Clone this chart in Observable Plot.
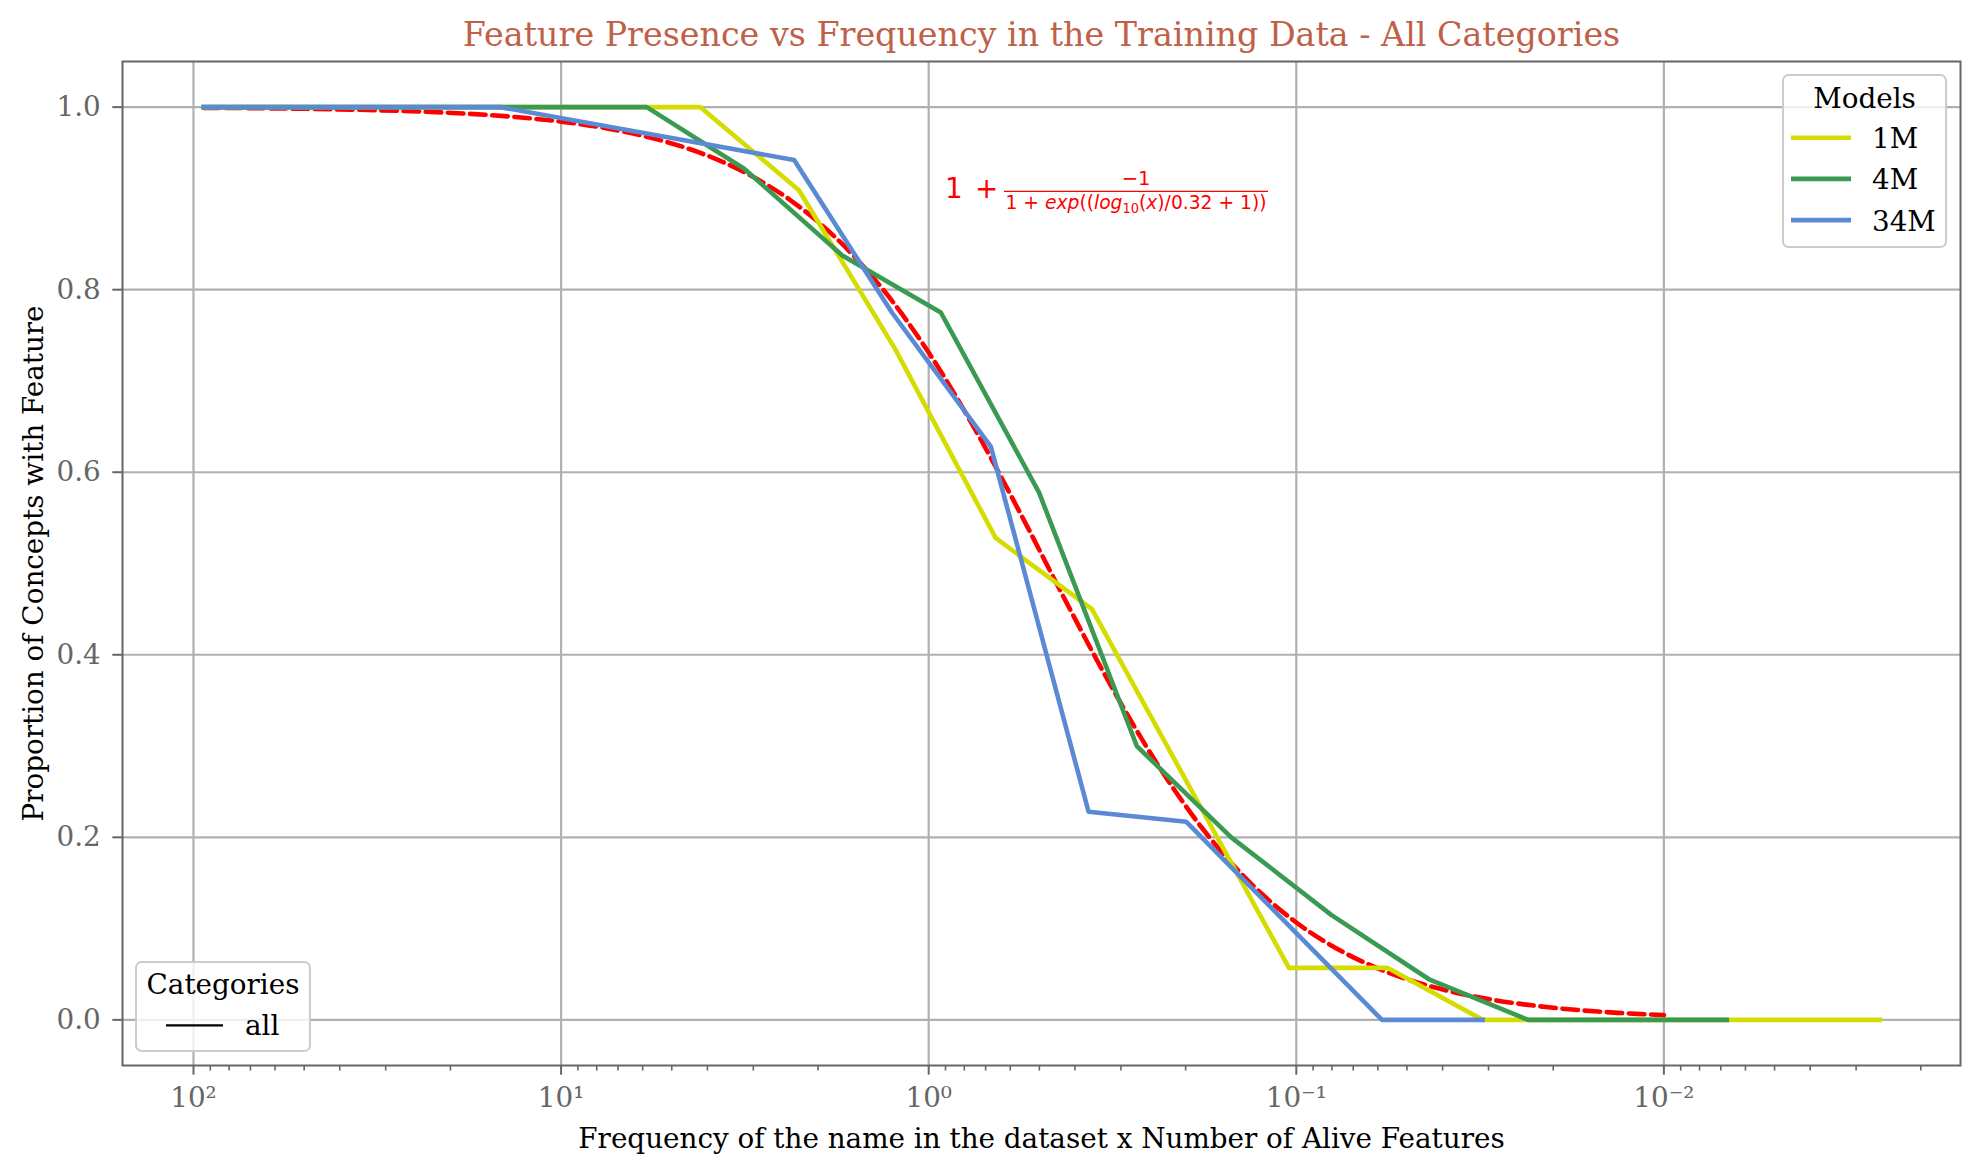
<!DOCTYPE html>
<html><head><meta charset="utf-8">
<script src="https://cdn.jsdelivr.net/npm/d3@7"></script>
<script src="https://cdn.jsdelivr.net/npm/@observablehq/plot@0.6"></script>
<style>html,body{margin:0;padding:0;background:#fff;} #chart{width:1979px;height:1172px;}</style>
</head><body><div id="chart"></div>
<script>
const title = "Feature Presence vs Frequency in the Training Data - All Categories";
const xLabel = "Frequency of the name in the dataset x Number of Alive Features";
const yLabel = "Proportion of Concepts with Feature";
const models = ["1M", "4M", "34M"];
const modelColors = ["#d4dc00", "#3a9a52", "#5b8ad4"];
const categories = ["all"];

const x1M = [93.76, 4.178, 2.254, 1.230, 0.6577, 0.3597, 0.1047, 0.05649, 0.03112, 0.002588];
const y1M = [1.0, 1.0, 0.909, 0.734, 0.528, 0.450, 0.057, 0.057, 0.0, 0.0];
const x4M = [93.76, 5.848, 3.177, 1.718, 0.9268, 0.5012, 0.2716, 0.1503, 0.08035, 0.04335, 0.02339, 0.006745];
const y4M = [1.0, 1.0, 0.9325, 0.8375, 0.775, 0.578, 0.300, 0.200, 0.115, 0.044, 0.0, 0.0];
const x34M = [93.76, 14.62, 2.323, 1.259, 0.6776, 0.3673, 0.1991, 0.05848, 0.03112];
const y34M = [1.0, 1.0, 0.942, 0.775, 0.628, 0.228, 0.217, 0.0, 0.0];

const fitX = [93.76, 74.99, 56.23, 42.17, 31.62, 23.71, 17.78, 13.34, 10, 7.499, 5.623, 4.217, 3.162, 2.371, 1.778, 1.334, 1,
  0.7499, 0.5623, 0.4217, 0.3162, 0.2371, 0.1778, 0.1334, 0.1, 0.07499, 0.05623, 0.04217, 0.03162, 0.02371, 0.01778, 0.01334, 0.01];
const fitY = [0.9992, 0.9990, 0.9985, 0.9977, 0.9966, 0.9950, 0.9927, 0.9892, 0.9841, 0.9767, 0.9659, 0.9504, 0.9284, 0.8977, 0.8558, 0.8007, 0.7311,
  0.6478, 0.5544, 0.4571, 0.3630, 0.2783, 0.2069, 0.1500, 0.1067, 0.0748, 0.0518, 0.0357, 0.0244, 0.0167, 0.0113, 0.0077, 0.0052];

const xTicks = [100, 10, 1, 0.1, 0.01];
const xTickLabels = ["10²", "10¹", "10⁰", "10⁻¹", "10⁻²"];
const yTicks = [0, 0.2, 0.4, 0.6, 0.8, 1.0];
const yTickLabels = ["0.0", "0.2", "0.4", "0.6", "0.8", "1.0"];
const xDomain = [156, 0.00156];
const yDomain = [-0.05, 1.05];
const formulaPos = {x: 0.9, y: 0.9};

const seriesX = [x1M, x4M, x34M];
const seriesY = [y1M, y4M, y34M];
const rows = models.flatMap((m, i) => seriesX[i].map((x, j) => ({model: m, x, y: seriesY[i][j]})));
const fitRows = fitX.map((x, j) => ({x, y: fitY[j]}));

const minorTicks = [];
for (let k = -3; k <= 2; k++) for (let m = 2; m <= 9; m++) {
  const v = m * Math.pow(10, k);
  if (v < xDomain[0] && v > xDomain[1]) minorTicks.push(v);
}

const W = 1979, H = 1172, mL = 122, mR = 19, mT = 61, mB = 107;
const FS = 27.8;
const LW = 4.6;

const plot = Plot.plot({
  width: W, height: H,
  marginLeft: mL, marginRight: mR, marginTop: mT, marginBottom: mB,
  style: {fontFamily: "'DejaVu Serif', serif", fontSize: FS + "px", background: "white", color: "black"},
  x: {type: "log", domain: xDomain, label: null},
  y: {domain: yDomain, label: null},
  color: {domain: models, range: modelColors},
  marks: [
    Plot.gridX({ticks: xTicks, stroke: "#b0b0b0", strokeOpacity: 1, strokeWidth: 2.2}),
    Plot.gridY({ticks: yTicks, stroke: "#b0b0b0", strokeOpacity: 1, strokeWidth: 2.2}),
    Plot.line(fitRows, {x: "x", y: "y", stroke: "#ff0000", strokeWidth: LW, strokeDasharray: "15.5,6.7", curve: "catmull-rom"}),
    Plot.line(rows, {x: "x", y: "y", z: "model", stroke: "model", strokeWidth: LW, strokeLinejoin: "round", strokeLinecap: "square"}),
    Plot.frame({stroke: "#666", strokeWidth: 2}),
    Plot.axisX({ticks: minorTicks, tickSize: 5.6, tickFormat: () => "", stroke: "#666", strokeWidth: 1.6, label: null}),
    Plot.axisX({ticks: xTicks, tickSize: 9.7, tickPadding: 12, tickFormat: d => xTickLabels[xTicks.indexOf(d)], stroke: "#666", strokeWidth: 2, fill: "#666", label: null}),
    Plot.axisY({ticks: yTicks, tickSize: 9.7, tickPadding: 12, tickFormat: d => yTickLabels[yTicks.indexOf(d)], stroke: "#666", strokeWidth: 2, fill: "#666", label: null}),
    Plot.text([title], {text: d => d, frameAnchor: "top", textAnchor: "middle", dy: -16, lineAnchor: "bottom", fontSize: 33.3, fill: "#bf6048"}),
    Plot.text([xLabel], {text: d => d, frameAnchor: "bottom", textAnchor: "middle", dy: 82, lineAnchor: "bottom", fontSize: FS, fill: "black"}),
    Plot.text([yLabel], {text: d => d, frameAnchor: "left", textAnchor: "middle", dx: -80, rotate: -90, lineAnchor: "bottom", fontSize: FS, fill: "black"})
  ]
});
document.getElementById("chart").appendChild(plot);

const svg = d3.select(plot);
const sx = plot.scale("x"), sy = plot.scale("y");

// formula annotation
const ax = sx.apply(formulaPos.x), ay = sy.apply(formulaPos.y);
const g = svg.append("g").attr("fill", "#ff0000").attr("font-family", "'DejaVu Sans', sans-serif");
g.append("text").attr("x", ax).attr("y", ay).attr("text-anchor", "start").attr("font-size", FS).text("1");
g.append("text").attr("x", ax + 30).attr("y", ay).attr("text-anchor", "start").attr("font-size", FS).text("+");
g.append("line").attr("x1", ax + 59).attr("x2", ax + 323).attr("y1", ay - 6.5).attr("y2", ay - 6.5)
  .attr("stroke", "#ff0000").attr("stroke-width", 1.4);
g.append("text").attr("x", ax + 191).attr("y", ay - 13).attr("text-anchor", "middle").attr("font-size", 19.5).text("−1");
const den = g.append("text").attr("x", ax + 191).attr("y", ay + 11).attr("text-anchor", "middle")
  .attr("font-size", 19.5).attr("textLength", 261).attr("lengthAdjust", "spacingAndGlyphs");
den.append("tspan").text("1 + ");
den.append("tspan").attr("font-style", "italic").text("exp");
den.append("tspan").text("((");
den.append("tspan").attr("font-style", "italic").text("log");
den.append("tspan").attr("font-size", 13.5).attr("dy", 4).text("10");
den.append("tspan").attr("dy", -4).text("(");
den.append("tspan").attr("font-style", "italic").text("x");
den.append("tspan").text(")/0.32 + 1))");

// legends
const frameR = W - mR, frameT = mT, frameL = mL, frameB = H - mB;
function box(x, y, w, h) {
  svg.append("rect").attr("x", x).attr("y", y).attr("width", w).attr("height", h)
    .attr("rx", 5.6).attr("fill", "white").attr("fill-opacity", 0.8)
    .attr("stroke", "#cccccc").attr("stroke-width", 2);
}
// Models legend (upper right)
{
  const w = 163, h = 172, x = frameR - 14 - w, y = frameT + 14;
  box(x, y, w, h);
  const lg = svg.append("g").attr("font-family", "'DejaVu Serif', serif").attr("font-size", FS);
  lg.append("text").attr("x", x + w / 2).attr("y", y + 33).attr("text-anchor", "middle").attr("fill", "black").text("Models");
  models.forEach((m, i) => {
    const ly = y + 62.7 + i * 41.2;
    lg.append("line").attr("x1", x + 8).attr("x2", x + 68).attr("y1", ly).attr("y2", ly)
      .attr("stroke", modelColors[i]).attr("stroke-width", LW);
    lg.append("text").attr("x", x + 89).attr("y", ly + 10.5).attr("text-anchor", "start").attr("fill", "black").text(m);
  });
}
// Categories legend (lower left)
{
  const w = 174, h = 89, x = frameL + 14, y = frameB - 14 - h;
  box(x, y, w, h);
  const lg = svg.append("g").attr("font-family", "'DejaVu Serif', serif").attr("font-size", FS);
  lg.append("text").attr("x", x + w / 2).attr("y", y + 31.5).attr("text-anchor", "middle").attr("fill", "black").text("Categories");
  categories.forEach((c, i) => {
    const ly = y + 63.3 + i * 41.2;
    lg.append("line").attr("x1", x + 30).attr("x2", x + 87).attr("y1", ly).attr("y2", ly)
      .attr("stroke", "black").attr("stroke-width", 2.2);
    lg.append("text").attr("x", x + 109).attr("y", ly + 10).attr("text-anchor", "start").attr("fill", "black").text(c);
  });
}
</script>
</body></html>
